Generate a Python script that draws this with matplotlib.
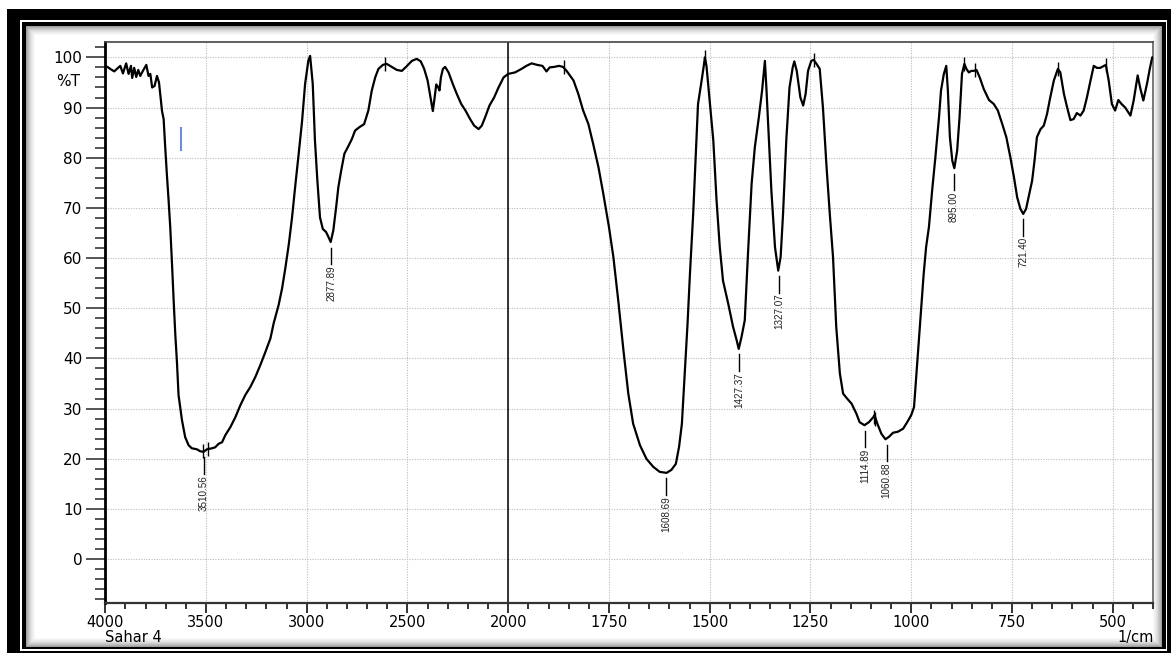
import numpy as np
import matplotlib
matplotlib.use("Agg")
import matplotlib.pyplot as plt
from matplotlib.patches import Rectangle
from matplotlib.ticker import FixedLocator, FuncFormatter, MultipleLocator
from matplotlib import font_manager

# ---------------- data ----------------
wavenumber = [
    4000, 3985, 3975, 3955, 3942, 3925, 3912, 3896, 3884, 3872,
    3866, 3856, 3846, 3836, 3826, 3813, 3796, 3785, 3776, 3767,
    3755, 3743, 3733, 3727, 3718, 3710, 3702, 3694, 3685, 3677,
    3669, 3660, 3652, 3644, 3636, 3627, 3619, 3603, 3586, 3570,
    3545, 3528, 3512, 3495, 3470, 3454, 3437, 3420, 3404, 3379,
    3354, 3329, 3305, 3280, 3255, 3230, 3205, 3180, 3164, 3139,
    3122, 3106, 3089, 3073, 3056, 3040, 3023, 3008, 2992, 2983,
    2970, 2959, 2947, 2934, 2920, 2904, 2892, 2881, 2868, 2854,
    2843, 2829, 2813, 2796, 2776, 2760, 2738, 2715, 2694, 2677,
    2660, 2644, 2622, 2603, 2578, 2553, 2528, 2507, 2478, 2454,
    2434, 2417, 2400, 2387, 2374, 2366, 2357, 2347, 2341, 2334,
    2324, 2313, 2296, 2275, 2255, 2233, 2212, 2189, 2169, 2147,
    2131, 2114, 2093, 2070, 2048, 2023, 2000, 1983, 1967, 1955,
    1942, 1928, 1915, 1905, 1897, 1886, 1874, 1864, 1855, 1838,
    1826, 1814, 1801, 1789, 1776, 1764, 1750, 1739, 1727, 1714,
    1702, 1690, 1673, 1657, 1640, 1624, 1607, 1595, 1584, 1576,
    1569, 1562, 1555, 1549, 1541, 1533, 1529, 1520, 1514, 1512,
    1508, 1500, 1491, 1483, 1475, 1467, 1454, 1442, 1433, 1428,
    1421, 1413, 1405, 1396, 1388, 1378, 1370, 1363, 1359, 1353,
    1347, 1338, 1330, 1324, 1318, 1310, 1302, 1294, 1290, 1284,
    1275, 1268, 1262, 1256, 1248, 1242, 1235, 1227, 1219, 1210,
    1202, 1194, 1186, 1177, 1169, 1159, 1148, 1136, 1128, 1116,
    1105, 1094, 1091, 1084, 1074, 1064, 1055, 1045, 1033, 1020,
    1010, 1000, 993, 987, 981, 975, 969, 963, 956, 948,
    940, 931, 926, 919, 913, 909, 904, 898, 893, 886,
    880, 874, 868, 863, 857, 851, 845, 838, 830, 820,
    807, 795, 785, 774, 764, 754, 745, 737, 729, 722,
    715, 707, 700, 694, 688, 679, 671, 663, 655, 646,
    636, 630, 621, 613, 605, 597, 589, 580, 572, 564,
    555, 547, 539, 531, 517, 510, 502, 494, 486, 478,
    469, 456, 448, 438, 432, 424, 415, 408, 402, 400,
]
transmittance = [
    98.3, 98.0, 97.7, 97.2, 97.7, 98.3, 96.8, 98.8, 96.7, 98.3,
    95.9, 97.9, 96.1, 97.5, 96.3, 97.3, 98.5, 96.3, 96.7, 94.0,
    94.3, 96.3, 95.0, 92.7, 89.3, 87.7, 82.0, 76.7, 71.3, 66.0,
    59.3, 51.3, 44.7, 39.3, 32.7, 30.0, 27.7, 24.3, 22.7, 22.1,
    21.9, 21.5, 21.4, 21.9, 22.1, 22.3, 23.0, 23.3, 24.7, 26.3,
    28.3, 30.7, 32.7, 34.3, 36.3, 38.7, 41.3, 44.0, 47.0, 50.7,
    54.0, 58.0, 62.7, 68.0, 74.7, 80.7, 87.3, 94.7, 99.3, 100.3,
    94.7, 83.4, 75.4, 68.1, 65.8, 65.2, 64.2, 63.2, 65.5, 70.1,
    74.1, 77.4, 80.8, 82.1, 83.7, 85.4, 86.1, 86.7, 89.4, 93.4,
    96.0, 97.7, 98.5, 98.7, 98.1, 97.5, 97.3, 98.1, 99.3, 99.7,
    99.2, 97.7, 95.4, 92.4, 89.3, 91.7, 94.6, 94.0, 93.4, 96.0,
    97.7, 98.1, 97.0, 94.7, 92.7, 90.7, 89.4, 87.7, 86.4, 85.7,
    86.4, 88.1, 90.4, 92.0, 94.0, 96.0, 96.7, 97.0, 97.7, 98.3,
    98.8, 98.5, 98.3, 97.2, 98.0, 98.1, 98.3, 98.1, 97.3, 95.4,
    92.7, 89.4, 86.7, 82.7, 78.1, 72.8, 66.2, 60.2, 51.6, 41.6,
    33.0, 27.0, 22.7, 20.0, 18.4, 17.4, 17.2, 17.8, 19.0, 22.4,
    27.0, 37.0, 46.9, 56.9, 68.8, 83.4, 90.7, 95.4, 98.7, 100.0,
    98.3, 91.4, 83.4, 71.5, 62.2, 55.5, 50.9, 46.3, 43.6, 41.9,
    44.3, 47.6, 60.9, 74.8, 82.1, 88.1, 93.4, 99.3, 93.4, 83.4,
    73.5, 62.2, 57.5, 60.2, 68.8, 83.4, 94.0, 98.0, 99.2, 97.3,
    92.0, 90.4, 92.7, 97.3, 99.3, 99.5, 98.7, 97.7, 90.0, 78.1,
    68.8, 60.2, 46.3, 37.0, 33.0, 32.0, 31.0, 29.0, 27.3, 26.7,
    27.3, 28.3, 28.7, 27.0, 25.0, 23.9, 24.4, 25.2, 25.4, 26.0,
    27.3, 28.7, 30.3, 37.0, 43.6, 50.2, 56.9, 62.2, 66.2, 73.5,
    80.1, 88.1, 93.4, 96.7, 98.3, 93.4, 84.1, 79.4, 77.9, 81.4,
    88.1, 96.7, 98.7, 97.7, 97.0, 97.3, 97.3, 97.5, 96.0, 93.7,
    91.5, 90.7, 89.4, 86.7, 84.1, 80.1, 76.1, 72.1, 69.8, 68.8,
    69.8, 72.8, 75.4, 79.4, 84.1, 85.7, 86.4, 88.7, 92.0, 95.4,
    97.7, 97.0, 92.7, 90.0, 87.5, 87.7, 88.9, 88.4, 89.4, 92.0,
    95.4, 98.3, 97.9, 97.9, 98.5, 95.4, 90.7, 89.4, 91.5, 90.7,
    90.0, 88.4, 91.4, 96.4, 94.0, 91.4, 94.7, 97.7, 100.0, 100.0,
]

peak_wn = [3510.56, 2877.89, 1608.69, 1427.37, 1327.07, 1114.89, 1060.88, 895.00, 721.40]
peak_T = [21.4, 63.2, 17.2, 41.9, 57.5, 26.7, 23.9, 77.9, 68.8]
peak_labels = ["3510.56", "2877.89", "1608.69", "1427.37", "1327.07",
               "1114.89", "1060.88", "895.00", "721.40"]

# small peak-pick marks on the trace
mark_wn = [3516, 3491, 2611, 1862, 1512, 1242, 1093, 1089, 868, 841, 636, 517]
mark_T = [21.6, 21.9, 98.7, 98.1, 100.0, 99.5, 28.4, 28.0, 98.7, 97.4, 97.7, 98.5]

x_major = [4000, 3500, 3000, 2500, 2000, 1750, 1500, 1250, 1000, 750, 500]
y_major = [0, 10, 20, 30, 40, 50, 60, 70, 80, 90, 100]
sample_name = "Sahar 4"
x_unit = "1/cm"
y_unit = "%T"

# narrow font for the peak labels if available
try:
    font_manager.findfont(font_manager.FontProperties(family="Liberation Sans Narrow"),
                          fallback_to_default=False)
    peak_family, peak_size = "Liberation Sans Narrow", 8.0
except Exception:
    peak_family, peak_size = "Liberation Sans", 7.1

# ---------------- figure ----------------
W, H = 1171, 653
fig = plt.figure(figsize=(W / 100, H / 100), dpi=100)


def frect(x0, y0, x1, y1, color, z):
    r = Rectangle((x0 / W, 1 - y1 / H), (x1 - x0) / W, (y1 - y0) / H,
                  transform=fig.transFigure, facecolor=color, edgecolor="none",
                  zorder=z)
    fig.patches.append(r)


# outer decorative frame
frect(7.3, 9, 1180, 670, "black", -20)
frect(20, 20, 1167.3, 650.7, "white", -19)
frect(22, 22, 1165.7, 649.3, "black", -18)
levels = [0.62, 0.69, 0.75, 0.80, 0.85, 0.89, 0.92, 0.95, 0.975, 1.0]
for k, g in enumerate(levels):
    frect(25.7 + k, 25.7 + k, 1162.3 - k, 647.3 - k, (g, g, g), -17 + k * 0.1)

ax_l, ax_r, ax_t, ax_b = 105.2, 1153.0, 42.3, 602.7
ax = fig.add_axes([ax_l / W, 1 - ax_b / H, (ax_r - ax_l) / W, (ax_b - ax_t) / H])


def fwd(w):
    w = np.asarray(w, dtype=float)
    return np.where(w >= 2000, w, 2 * w - 2000)


def inv(p):
    p = np.asarray(p, dtype=float)
    return np.where(p >= 2000, p, (p + 2000) / 2)


ax.set_xscale("function", functions=(fwd, inv))
ax.set_xlim(4000, 400)
ax.set_ylim(-8.67, 103.0)

# ticks
x_minor = [w for w in range(3900, 2000, -100) if w not in x_major] + \
          [w for w in range(1950, 399, -50) if w not in x_major]
ax.xaxis.set_major_locator(FixedLocator(x_major))
ax.xaxis.set_minor_locator(FixedLocator(x_minor))
ax.xaxis.set_major_formatter(FuncFormatter(lambda v, p: f"{int(round(v))}"))
ax.xaxis.set_minor_formatter(FuncFormatter(lambda v, p: ""))
ax.yaxis.set_major_locator(FixedLocator(y_major))
ax.yaxis.set_minor_locator(MultipleLocator(2))

ax.tick_params(axis="y", which="major", direction="out", length=13.5, width=1.4,
               color="#555555", pad=3, labelsize=11)
ax.tick_params(axis="y", which="minor", direction="out", length=7, width=1.4,
               color="#555555")
ax.tick_params(axis="x", which="major", direction="out", length=7.5, width=1.4,
               color="#333333", pad=1.5, labelsize=10.5)
ax.tick_params(axis="x", which="minor", direction="out", length=4.0, width=1.4,
               color="#333333")
for lab in ax.get_xticklabels() + ax.get_yticklabels():
    lab.set_family("DejaVu Sans")

ax.spines["left"].set_linewidth(2.0)
ax.spines["left"].set_color("black")
ax.spines["bottom"].set_linewidth(1.6)
ax.spines["bottom"].set_color("#333333")
ax.spines["top"].set_linewidth(1.2)
ax.spines["top"].set_color("#444444")
ax.spines["right"].set_linewidth(1.4)
ax.spines["right"].set_color("#777777")

ax.grid(True, which="major", color="#bcbcbc", linestyle=(0, (1, 1.3)), linewidth=0.8)
ax.set_axisbelow(True)
ax.axvline(2000, color="black", linewidth=1.1, zorder=2)

# spectrum
ax.plot(wavenumber, transmittance, color="black", linewidth=1.6, zorder=3)

# peak-pick marks
ax.vlines(mark_wn, np.array(mark_T) - 1.4, np.array(mark_T) + 1.4,
          color="black", linewidth=1.0, zorder=3)

# small blue cursor mark
ax.plot([3625, 3625], [81.5, 85.9], color="#6a8fd8", linewidth=1.5, zorder=3)

# peak labels
for w, t, s in zip(peak_wn, peak_T, peak_labels):
    ax.plot([w, w], [t - 1.1, t - 4.4], color="black", linewidth=1.0, zorder=3)
    ax.text(w, t - 4.6, s, rotation=90, ha="center", va="top", fontsize=peak_size,
            color="#222222", family=peak_family, zorder=4)

# axis texts
ax.text(-0.0355, 95.1, y_unit, transform=ax.get_yaxis_transform(), ha="center",
        va="center", fontsize=11, family="DejaVu Sans")
fig.text(ax_l / W, 1 - 637.5 / H, sample_name, ha="left", va="center", fontsize=10.5,
         family="DejaVu Sans")
fig.text(1154 / W, 1 - 637.5 / H, x_unit, ha="right", va="center", fontsize=10.5,
         family="DejaVu Sans")

fig.savefig("out.png", dpi=100)
